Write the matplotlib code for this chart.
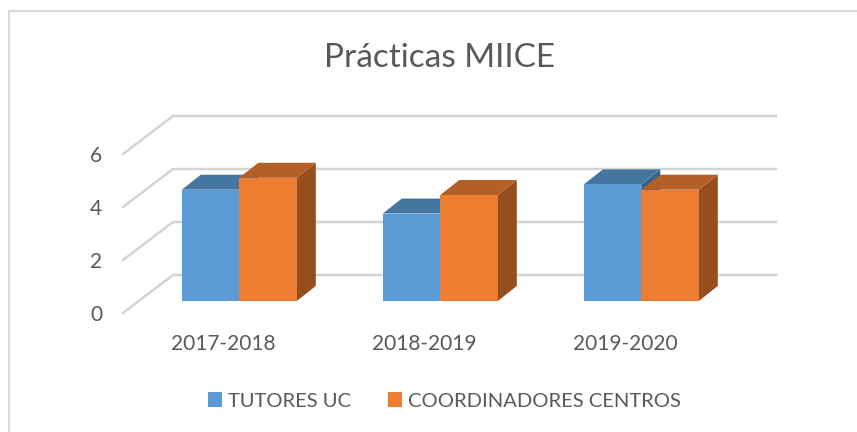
import matplotlib
matplotlib.use('Agg')
from matplotlib import pyplot as plt
from matplotlib.patches import Polygon, Patch, Rectangle
from matplotlib.colors import to_rgb

W, H = 857, 432

# data
courses = ['2017-2018', '2018-2019', '2019-2020']
tutores = [4.2, 3.3, 4.4]
coordinadores = [4.65, 4.0, 4.2]
y_ticks = [0, 2, 4, 6]
series_names = ['TUTORES UC', 'COORDINADORES CENTROS']

BLUE = '#5b9bd5'
ORANGE = '#ed7d31'
GRID = '#d4d4d4'
TEXT = '#595959'

plt.rcParams['font.family'] = ['Lato', 'DejaVu Sans']

fig = plt.figure(figsize=(W / 100, H / 100), dpi=100)
# chart frame, cut off on the right and at the bottom of the picture
fig.patches.append(Rectangle((8.5 / W, -0.1), 1, 1.1 - 11 / H, transform=fig.transFigure,
                             fill=False, ec='#dcdcdc', lw=1.5))

ax = fig.add_axes([123 / W, 1 - 313 / H, 603 / W, 159 / H])
ax.set_xlim(-0.5, 2.5)
ax.set_ylim(0, 6)
ax.patch.set_alpha(0)
for s in ax.spines.values():
    s.set_visible(False)

px = 3 / 603  # data units per pixel, x
py = 6 / 159  # data units per pixel, y


def depth(x, y, dx, dy):
    # shift a point back into the chart by a pixel offset
    return (x + dx * px, y + dy * py)


# walls: slanted lines and back gridlines
for v in y_ticks:
    a = depth(-0.5, v, 0, 0)
    b = depth(-0.5, v, 50, 38)
    c = depth(2.5, v, 50, 38)
    ax.plot([a[0], b[0], c[0]], [a[1], b[1], c[1]], color=GRID, lw=1.8, clip_on=False, zorder=1,
            solid_joinstyle='miter')


def shade(color, f):
    return tuple(c * f for c in to_rgb(color))


def bar3d(x0, val, w, color, z):
    ox, oy = 15.8, 12
    dx, dy = 19, 15
    x1 = x0 + w
    front = [depth(x0, 0, ox, oy), depth(x1, 0, ox, oy), depth(x1, val, ox, oy), depth(x0, val, ox, oy)]
    top = [depth(x0, val, ox, oy), depth(x1, val, ox, oy), depth(x1, val, ox + dx, oy + dy), depth(x0, val, ox + dx, oy + dy)]
    side = [depth(x1, 0, ox, oy), depth(x1, 0, ox + dx, oy + dy), depth(x1, val, ox + dx, oy + dy), depth(x1, val, ox, oy)]
    ax.add_patch(Polygon(side, fc=shade(color, 0.63), ec='none', clip_on=False, zorder=z))
    ax.add_patch(Polygon(top, fc=shade(color, 0.76), ec='none', clip_on=False, zorder=z))
    ax.add_patch(Polygon(front, fc=color, ec='none', clip_on=False, zorder=z))


bar_w = 57.5 * px
for i in range(len(courses)):
    bar3d(i - bar_w, tutores[i], bar_w, BLUE, 3)
    bar3d(i, coordinadores[i], bar_w, ORANGE, 4)

ax.set_xticks(range(len(courses)))
ax.set_xticklabels(courses)
ax.set_yticks(y_ticks)
ax.tick_params(length=0, labelcolor=TEXT, labelsize=15)
ax.tick_params(axis='x', pad=15)
ax.tick_params(axis='y', pad=15)

fig.text(440 / W, 1 - 58 / H, 'Prácticas MIICE', fontsize=24, color=TEXT, ha='center', va='center')

handles = [Patch(fc=BLUE, label=series_names[0]), Patch(fc=ORANGE, label=series_names[1])]
fig.legend(handles=handles, loc='center', bbox_to_anchor=(444.5 / W, 1 - 401 / H), ncol=2, frameon=False,
           fontsize=14.5, labelcolor=TEXT, handlelength=0.7, handleheight=0.7, handletextpad=0.3,
           columnspacing=1.85)

fig.savefig('out.png', dpi=100)
